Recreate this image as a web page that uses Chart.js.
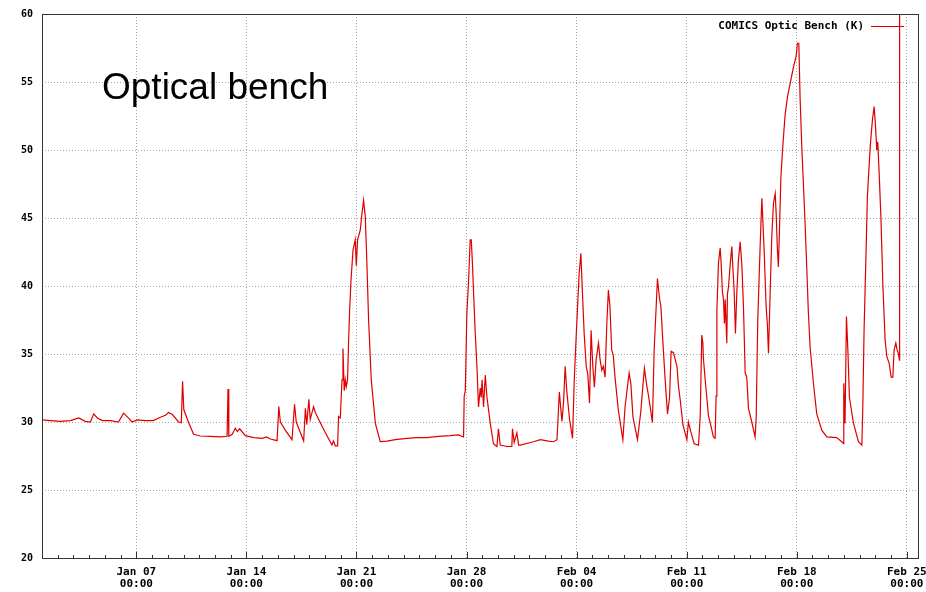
<!DOCTYPE html>
<html>
<head>
<meta charset="utf-8">
<script src="https://cdn.jsdelivr.net/npm/chart.js@4/dist/chart.umd.min.js"></script>
<style>
  html, body { margin: 0; padding: 0; background: #ffffff; }
  #wrap { width: 926px; height: 592px; }
</style>
</head>
<body>
<div id="wrap"><canvas id="c" width="926" height="592"></canvas></div>
<script>
// ---- DATA (time in days since Jan 01 00:00, temperature in K) ----
const seriesLabel = 'COMICS Optic Bench (K)';
const titleText = 'Optical bench';

const times = [
  0.00, 0.53, 1.17, 1.81, 2.33, 2.76, 3.08, 3.29, 3.52, 3.84, 4.35, 4.86, 5.19, 5.49, 5.73,
  6.06, 6.57, 7.08, 7.53, 7.85, 8.05, 8.29, 8.69, 8.86, 8.94, 9.02, 9.33, 9.64, 10.07, 10.71,
  11.34, 11.77, 11.83, 11.88, 12.10, 12.29, 12.42, 12.57, 12.93, 13.46, 14.01, 14.27, 14.52, 14.95,
  15.06, 15.16, 15.47, 15.90, 16.06, 16.17, 16.64, 16.75, 16.84, 16.97, 17.06, 17.27, 17.38, 17.89,
  18.44, 18.53, 18.65, 18.80, 18.86, 18.97, 19.08, 19.14, 19.22, 19.29, 19.35, 19.43, 19.50, 19.56,
  19.65, 19.78, 19.92, 19.99, 20.07, 20.24, 20.35, 20.45, 20.56, 20.67, 20.77, 20.94, 21.20, 21.51,
  21.94, 22.47, 23.21, 23.80, 24.48, 25.20, 25.96, 26.47, 26.81, 26.85, 26.92, 27.02, 27.13, 27.23,
  27.30, 27.38, 27.44, 27.55, 27.66, 27.76, 27.87, 27.93, 27.99, 28.08, 28.19, 28.30, 28.51, 28.71,
  28.93, 29.03, 29.14, 29.57, 29.88, 29.92, 30.03, 30.20, 30.31, 30.41, 31.26, 31.69, 32.20, 32.53,
  32.75, 32.90, 32.99, 33.07, 33.17, 33.27, 33.38, 33.55, 33.74, 33.85, 33.96, 34.06, 34.16, 34.27,
  34.37, 34.48, 34.61, 34.71, 34.82, 34.92, 35.03, 35.13, 35.24, 35.39, 35.49, 35.60, 35.70, 35.81,
  35.92, 36.02, 36.12, 36.23, 36.33, 36.44, 36.65, 36.94, 37.08, 37.23, 37.34, 37.45, 37.58, 37.87,
  38.08, 38.21, 38.31, 38.47, 38.57, 38.68, 38.82, 38.93, 39.04, 39.14, 39.27, 39.36, 39.48, 39.63,
  39.78, 39.91, 40.01, 40.16, 40.27, 40.38, 40.48, 40.59, 40.76, 41.01, 41.11, 41.26, 41.47, 41.75,
  41.86, 41.96, 42.03, 42.06, 42.17, 42.38, 42.70, 42.81, 42.87, 42.92, 43.02, 43.13, 43.19, 43.27,
  43.34, 43.40, 43.45, 43.55, 43.59, 43.66, 43.76, 43.87, 43.93, 44.02, 44.10, 44.19, 44.29, 44.40,
  44.51, 44.61, 44.72, 44.82, 44.93, 45.14, 45.35, 45.42, 45.52, 45.67, 45.78, 45.84, 45.93, 46.05,
  46.13, 46.20, 46.31, 46.41, 46.52, 46.63, 46.69, 46.77, 46.83, 46.90, 46.99, 47.11, 47.26, 47.41,
  47.58, 47.79, 47.96, 48.04, 48.13, 48.21, 48.32, 48.42, 48.53, 48.64, 48.74, 48.85, 49.06, 49.27,
  49.59, 49.91, 50.54, 50.86, 50.97, 50.99, 51.07, 51.16, 51.25, 51.35, 51.60, 51.92, 52.14, 52.20,
  52.28, 52.39, 52.49, 52.67, 52.81, 52.92, 53.00, 53.09, 53.15, 53.24, 53.35, 53.48, 53.62, 53.73,
  53.88, 54.00, 54.11, 54.19, 54.30, 54.38, 54.46, 54.53, 54.54
];

const values = [
  30.15, 30.10, 30.05, 30.10, 30.30, 30.05, 30.00, 30.60, 30.30, 30.10, 30.10, 30.00, 30.65, 30.30, 30.00,
  30.15, 30.10, 30.10, 30.35, 30.50, 30.70, 30.55, 30.00, 29.95, 33.00, 30.90, 29.95, 29.10, 28.97, 28.95,
  28.90, 28.95, 32.43, 28.95, 29.10, 29.54, 29.30, 29.50, 29.00, 28.85, 28.80, 28.90, 28.75, 28.63,
  31.13, 30.00, 29.40, 28.70, 31.30, 30.00, 28.60, 31.00, 29.80, 31.67, 30.20, 31.13, 30.70, 29.50,
  28.30, 28.60, 28.25, 28.25, 30.40, 30.30, 33.10, 35.40, 32.30, 33.10, 32.60, 33.10, 36.00, 38.10,
  40.40, 42.65, 43.40, 41.50, 43.40, 44.10, 45.35, 46.30, 45.10, 41.40, 37.50, 33.10, 29.90, 28.55,
  28.60, 28.70, 28.80, 28.85, 28.85, 28.95, 29.00, 29.05, 28.90, 31.90, 32.30, 38.00, 40.40, 43.40,
  43.40, 41.50, 39.70, 36.60, 34.10, 31.10, 32.50, 31.80, 33.10, 31.10, 33.45, 31.80, 29.90, 28.40,
  28.20, 29.50, 28.30, 28.20, 28.20, 29.50, 28.50, 29.20, 28.30, 28.30, 28.55, 28.70, 28.60, 28.55,
  28.70, 32.20, 31.00, 30.05, 31.50, 34.10, 32.20, 30.20, 28.80, 33.10, 36.00, 38.50, 40.90, 42.40,
  39.50, 36.50, 34.10, 33.50, 31.40, 36.75, 34.10, 32.55, 34.60, 35.80, 34.60, 33.80, 34.10, 33.30,
  37.25, 39.70, 38.50, 35.30, 34.90, 33.30, 30.90, 28.70, 31.10, 32.60, 33.60, 32.80, 30.40, 28.70,
  30.75, 32.60, 33.95, 32.60, 31.95, 31.10, 29.97, 35.30, 38.00, 40.55, 39.10, 38.50, 36.00, 33.10,
  30.60, 31.80, 35.20, 35.10, 34.60, 34.10, 32.60, 31.60, 29.80, 28.70, 30.00, 29.30, 28.40, 28.30,
  30.40, 36.40, 35.80, 34.70, 33.20, 30.50, 28.90, 28.80, 31.90, 38.20, 41.70, 42.80, 41.70, 39.60,
  39.00, 37.25, 39.00, 35.80, 39.40, 39.95, 41.50, 42.90, 41.50, 39.60, 36.50, 39.60, 41.90, 43.25,
  41.50, 38.50, 33.60, 33.30, 31.00, 30.00, 28.90, 30.35, 37.50, 42.90, 46.45, 44.90, 42.50, 38.50,
  37.20, 35.05, 39.60, 43.60, 46.10, 46.80, 45.30, 42.65, 41.40, 44.10, 48.00, 50.25, 52.60, 53.90,
  54.90, 56.10, 56.90, 57.85, 57.85, 53.90, 50.25, 47.55, 44.60, 41.20, 38.00, 35.50, 32.85, 30.60,
  29.40, 28.90, 28.85, 28.55, 28.40, 32.85, 29.90, 37.75, 35.30, 31.80, 29.95, 28.55, 28.30, 31.10,
  36.75, 41.70, 46.55, 50.25, 52.20, 53.20, 51.90, 50.00, 50.60, 48.30, 45.10, 39.95, 36.00, 34.80,
  34.30, 33.30, 33.30, 35.30, 35.80, 35.30, 35.05, 34.55, 60.00
];

const xTickDays = [6, 13, 20, 27, 34, 41, 48, 55];
const xTickLabels = [
  ['Jan 07', '00:00'], ['Jan 14', '00:00'], ['Jan 21', '00:00'], ['Jan 28', '00:00'],
  ['Feb 04', '00:00'], ['Feb 11', '00:00'], ['Feb 18', '00:00'], ['Feb 25', '00:00']
];
const yTicks = [20, 25, 30, 35, 40, 45, 50, 55, 60];
const xMin = 0, xMax = 55.71;
const yMin = 20, yMax = 60;

// ---- styling ----
const RED = 'rgb(222,0,0)';
const MONO = '"DejaVu Sans Mono", monospace';

const points = times.map((t, i) => ({ x: t, y: values[i] }));

const framePlugin = {
  id: 'frame',
  afterDraw(chart) {
    const ctx = chart.ctx;
    const a = chart.chartArea;
    const xs = chart.scales.x;
    ctx.save();
    // inner daily ticks on bottom axis
    ctx.strokeStyle = '#333333';
    ctx.lineWidth = 1;
    ctx.beginPath();
    for (let d = Math.ceil(xMin); d <= Math.floor(xMax); d++) {
      const px = Math.round(xs.getPixelForValue(d)) + 0.5;
      const len = xTickDays.includes(d) ? 6 : 3;
      ctx.moveTo(px, a.bottom);
      ctx.lineTo(px, a.bottom - len);
    }
    ctx.stroke();
    // frame
    ctx.strokeStyle = '#333333';
    ctx.lineWidth = 1;
    ctx.strokeRect(Math.round(a.left) + 0.5, Math.round(a.top) + 0.5,
                   Math.round(a.right - a.left), Math.round(a.bottom - a.top));
    // legend (text then sample line)
    const ds = chart.data.datasets[0];
    ctx.font = 'bold 11px ' + MONO;
    ctx.fillStyle = '#000000';
    ctx.textAlign = 'right';
    ctx.textBaseline = 'middle';
    ctx.fillText(ds.label, 864, 26);
    ctx.strokeStyle = ds.borderColor;
    ctx.lineWidth = 1;
    ctx.beginPath();
    ctx.moveTo(871, 26.5);
    ctx.lineTo(904, 26.5);
    ctx.stroke();
    // big title
    ctx.font = '37px "Liberation Sans", Arial, sans-serif';
    ctx.fillStyle = '#000000';
    ctx.textAlign = 'left';
    ctx.textBaseline = 'alphabetic';
    ctx.fillText(titleText, 102, 99);
    ctx.restore();
  }
};

const gridCommon = {
  color: '#a8a8a8',
  lineWidth: 1,
  drawTicks: false
};

new Chart(document.getElementById('c'), {
  type: 'line',
  data: {
    datasets: [{
      label: seriesLabel,
      data: points,
      borderColor: RED,
      borderWidth: 1.2,
      pointRadius: 0,
      tension: 0,
      fill: false
    }]
  },
  options: {
    responsive: false,
    animation: false,
    devicePixelRatio: 1,
    layout: { padding: { top: 14, right: 8, left: 0, bottom: 0 } },
    plugins: {
      legend: { display: false },
      title: { display: false },
      tooltip: { enabled: false }
    },
    scales: {
      x: {
        type: 'linear',
        min: xMin,
        max: xMax,
        border: { display: false, dash: [1, 2] },
        grid: gridCommon,
        afterBuildTicks(scale) {
          scale.ticks = xTickDays.map(v => ({ value: v }));
        },
        afterFit(scale) {
          scale.height = 34;
          scale.paddingLeft = 0;
          scale.paddingRight = 0;
        },
        ticks: {
          autoSkip: false,
          maxRotation: 0,
          padding: 8,
          color: '#000000',
          font: { family: MONO, size: 11, weight: 'bold', lineHeight: 1.1 },
          callback(value) {
            const i = xTickDays.indexOf(value);
            return i >= 0 ? xTickLabels[i] : '';
          }
        }
      },
      y: {
        type: 'linear',
        min: yMin,
        max: yMax,
        border: { display: false, dash: [1, 2] },
        grid: gridCommon,
        afterBuildTicks(scale) {
          scale.ticks = yTicks.map(v => ({ value: v }));
        },
        afterFit(scale) {
          scale.width = 42;
          scale.paddingTop = 0;
          scale.paddingBottom = 0;
        },
        ticks: {
          padding: 9,
          color: '#000000',
          font: { family: MONO, size: 10, weight: 'bold' },
          callback(value) { return String(value); }
        }
      }
    }
  },
  plugins: [framePlugin]
});
</script>
</body>
</html>
